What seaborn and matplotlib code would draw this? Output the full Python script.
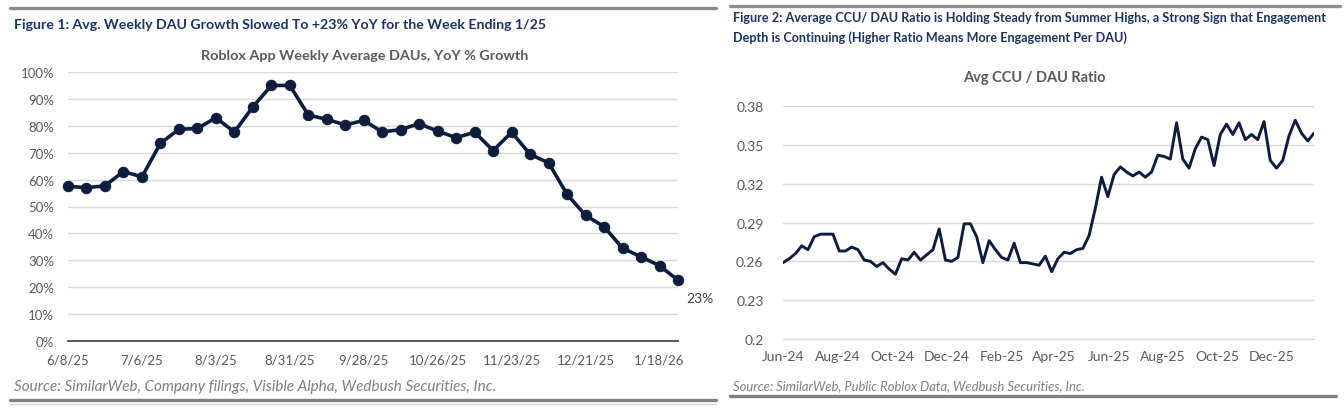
import numpy as np
import pandas as pd
import seaborn as sns
import matplotlib.pyplot as plt
import matplotlib.dates as mdates
from matplotlib.lines import Line2D

# Figure 1 data: weekly YoY DAU growth (%)
dau_start = "2025-06-08"
dau_growth = [57.5, 57, 57.7, 63, 61, 73.5, 78.7, 79, 83, 77.7,
              87, 95, 95, 84, 82.4, 80.3, 82, 77.7, 78.6, 80.8,
              78, 75.6, 77.6, 70.8, 77.6, 69.4, 66.2, 54.5, 46.7, 42.5,
              34.5, 31.3, 28, 22.6]
dau_yticks = [0, 10, 20, 30, 40, 50, 60, 70, 80, 90, 100]

# Figure 2 data: weekly avg CCU / DAU ratio
ccu_start = "2024-06-01"
ccu_ratio = [0.259, 0.262, 0.266, 0.272, 0.269, 0.279, 0.281, 0.281, 0.281, 0.268,
             0.268, 0.271, 0.269, 0.261, 0.260, 0.256, 0.259, 0.254, 0.250, 0.262,
             0.261, 0.267, 0.261, 0.265, 0.269, 0.285, 0.261, 0.260, 0.263, 0.289,
             0.289, 0.279, 0.259, 0.276, 0.269, 0.263, 0.261, 0.274, 0.259, 0.259,
             0.258, 0.257, 0.264, 0.252, 0.262, 0.267, 0.266, 0.269, 0.270, 0.280,
             0.301, 0.325, 0.310, 0.327, 0.333, 0.329, 0.326, 0.329, 0.325, 0.329,
             0.342, 0.341, 0.339, 0.367, 0.339, 0.332, 0.347, 0.356, 0.354, 0.334,
             0.358, 0.366, 0.358, 0.367, 0.354, 0.358, 0.354, 0.368, 0.338, 0.332,
             0.338, 0.357, 0.369, 0.359, 0.353, 0.359]
ccu_yticks = [0.2, 0.23, 0.26, 0.29, 0.32, 0.35, 0.38]

title1 = "Figure 1: Avg. Weekly DAU Growth Slowed To +23% YoY for the Week Ending 1/25"
sub1 = "Roblox App Weekly Average DAUs, YoY % Growth"
src1 = "Source: SimilarWeb, Company filings, Visible Alpha, Wedbush Securities, Inc."
title2 = ("Figure 2: Average CCU/ DAU Ratio is Holding Steady from Summer Highs, a Strong Sign that Engagement\n"
          "Depth is Continuing (Higher Ratio Means More Engagement Per DAU)")
sub2 = "Avg CCU / DAU Ratio"
src2 = "Source: SimilarWeb, Public Roblox Data, Wedbush Securities, Inc."

NAVY = "#0d1d3d"
TITLE = "#1b3361"
GRAY = "#595959"
GRID = "#d9d9d9"

sns.set_theme(style="white")
plt.rcParams["font.family"] = ["Lato", "DejaVu Sans"]

df1 = pd.DataFrame({"week": pd.date_range(dau_start, periods=len(dau_growth), freq="7D"),
                    "growth": dau_growth})
df2 = pd.DataFrame({"week": pd.date_range(ccu_start, periods=len(ccu_ratio), freq="7D"),
                    "ratio": ccu_ratio})

fig = plt.figure(figsize=(13.44, 4.14), dpi=100)
W, H = 1344, 414


def px(x0, y0, x1, y1):
    return [x0 / W, 1 - y1 / H, (x1 - x0) / W, (y1 - y0) / H]


# ---- left panel ----
ax1 = fig.add_axes(px(68, 73, 678, 342))
sns.lineplot(data=df1, x="week", y="growth", ax=ax1, color=NAVY, linewidth=2.6,
             marker="o", markersize=7.5, markeredgecolor=NAVY, clip_on=False)
ax1.set_xlim(df1["week"].iloc[0], df1["week"].iloc[-1])
ax1.set_ylim(0, 100)
ax1.set_yticks(dau_yticks)
ax1.set_yticklabels([f"{v}%" for v in dau_yticks])
xt = df1["week"].iloc[::4]
ax1.set_xticks(xt)
ax1.set_xticklabels([f"{d.month}/{d.day}/{d:%y}" for d in xt])
ax1.grid(axis="y", color=GRID, linewidth=1)
ax1.grid(axis="x", visible=False)
for s in ["top", "right", "left"]:
    ax1.spines[s].set_visible(False)
ax1.spines["bottom"].set_color(GRAY)
ax1.spines["bottom"].set_linewidth(1.4)
ax1.tick_params(axis="both", length=0, labelsize=9.5, labelcolor=GRAY)
ax1.tick_params(axis="x", pad=9)
ax1.tick_params(axis="y", pad=10)
ax1.set_xlabel("")
ax1.set_ylabel("")
ax1.annotate(f"{round(dau_growth[-1])}%", (df1["week"].iloc[-1], dau_growth[-1]),
             xytext=(6, -13), textcoords="offset points", fontsize=10, color="#404040",
             va="center", ha="left")

# ---- right panel ----
ax2 = fig.add_axes(px(783, 107, 1314, 340))
sns.lineplot(data=df2, x="week", y="ratio", ax=ax2, color=NAVY, linewidth=2.1)
ax2.set_xlim(df2["week"].iloc[0], df2["week"].iloc[-1])
ax2.set_ylim(0.2, 0.38)
ax2.set_yticks(ccu_yticks)
ax2.set_yticklabels([f"{v:g}" for v in ccu_yticks])
ax2.xaxis.set_major_locator(mdates.MonthLocator(bymonth=[2, 4, 6, 8, 10, 12]))
ax2.xaxis.set_major_formatter(mdates.DateFormatter("%b-%y"))
ax2.grid(axis="y", color=GRID, linewidth=1)
ax2.grid(axis="x", visible=False)
for s in ["top", "right", "left"]:
    ax2.spines[s].set_visible(False)
ax2.spines["bottom"].set_color(GRID)
ax2.spines["bottom"].set_linewidth(1)
ax2.tick_params(axis="y", length=0, labelsize=10, labelcolor=GRAY, pad=14)
ax2.tick_params(axis="x", length=5, color=GRID, labelsize=10, labelcolor=GRAY, pad=3)
ax2.set_xlabel("")
ax2.set_ylabel("")

# ---- titles, sources and rules ----
fig.text(14 / W, 1 - 25 / H, title1, fontsize=10.2, fontweight="bold", color=TITLE, va="center")
fig.text(365 / W, 1 - 56 / H, sub1, fontsize=10.4, fontweight="bold", color=GRAY, ha="center", va="center")
fig.text(14 / W, 1 - 387 / H, src1, fontsize=11, style="italic", color="#7f7f7f", va="center")

fig.text(733 / W, 1 - 28 / H, title2, fontsize=9.1, fontweight="bold", color=TITLE, va="center",
         linespacing=1.6)
fig.text(1034 / W, 1 - 78 / H, sub2, fontsize=10.5, fontweight="bold", color=GRAY, ha="center", va="center")
fig.text(733 / W, 1 - 386 / H, src2, fontsize=9.4, style="italic", color="#7f7f7f", va="center")

for x0, x1, y, lw, c in [(10, 716, 9, 2.4, "#8c8c8c"), (730, 1340, 7, 2.4, "#8c8c8c"),
                         (10, 716, 401, 2.4, "#808080"), (10, 716, 405, 0.8, "#d0d0d0"),
                         (730, 1336, 397, 2.4, "#808080")]:
    fig.add_artist(Line2D([x0 / W, x1 / W], [1 - y / H, 1 - y / H], color=c, linewidth=lw))

fig.savefig("out.png", dpi=100)
